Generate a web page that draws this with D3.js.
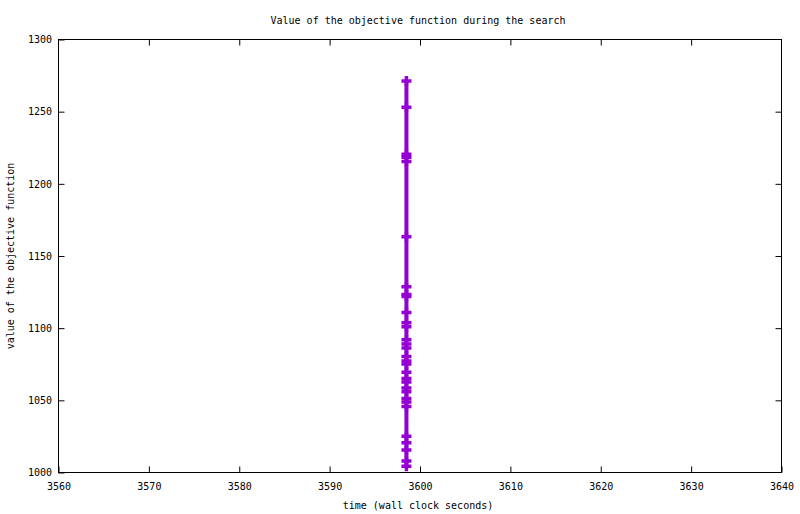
<!DOCTYPE html>
<html>
<head>
<meta charset="utf-8">
<script src="https://cdn.jsdelivr.net/npm/d3@7"></script>
<style>
  html, body { margin: 0; padding: 0; background: #fff; }
  svg text { font-family: "DejaVu Sans Mono", "Liberation Mono", monospace; font-size: 10px; fill: #000; }
</style>
</head>
<body>
<svg id="chart" width="800" height="514"></svg>
<script>
const titleText = "Value of the objective function during the search";
const xLabel = "time (wall clock seconds)";
const yLabel = "value of the objective function";

const xTicks = [3560, 3570, 3580, 3590, 3600, 3610, 3620, 3630, 3640];
const yTicks = [1000, 1050, 1100, 1150, 1200, 1250, 1300];

const times = [3598.5, 3598.5, 3598.5, 3598.5, 3598.5, 3598.5, 3598.5, 3598.5,
  3598.5, 3598.5, 3598.5, 3598.5, 3598.5, 3598.5, 3598.5, 3598.5, 3598.5, 3598.5,
  3598.5, 3598.5, 3598.5, 3598.5, 3598.5, 3598.5, 3598.5, 3598.5, 3598.5, 3598.5,
  3598.5, 3598.5, 3598.5];
const objective = [1271.3, 1253, 1220.5, 1218.5, 1215.5, 1163.4, 1128.7, 1123.3,
  1121.9, 1110.8, 1103.7, 1100.9, 1091.9, 1089.1, 1086.3, 1080.4, 1077.3, 1075.2,
  1069.4, 1065.1, 1062.7, 1058.5, 1056, 1051.3, 1048.8, 1045.7, 1025.2, 1020.6,
  1015.6, 1007.9, 1004.4];

const data = times.map((t, i) => ({ t: t, v: objective[i] }));

const svg = d3.select("#chart");
const L = 58.5, R = 781.5, T = 39.5, B = 472.5;
const x = d3.scaleLinear().domain([3560, 3640]).range([L, R]);
const y = d3.scaleLinear().domain([1000, 1300]).range([B, T]);
const color = "#9400d3";

function styleAxis(g) {
  g.select(".domain").remove();
  g.selectAll(".tick line").attr("stroke", "#000").attr("stroke-width", 1);
}

svg.append("g").attr("transform", `translate(0,${B})`)
  .call(d3.axisBottom(x).tickValues(xTicks).tickSize(-6).tickPadding(10.5).tickFormat(d3.format("d")))
  .call(styleAxis);
svg.append("g").attr("transform", `translate(0,${T})`)
  .call(d3.axisTop(x).tickValues(xTicks.slice(1, -1)).tickSize(-6).tickFormat(""))
  .call(styleAxis);
svg.append("g").attr("transform", `translate(${L},0)`)
  .call(d3.axisLeft(y).tickValues(yTicks).tickSize(-6).tickPadding(6.5).tickFormat(d3.format("d")))
  .call(styleAxis);
svg.append("g").attr("transform", `translate(${R},0)`)
  .call(d3.axisRight(y).tickValues(yTicks.slice(1, -1)).tickSize(-6).tickFormat(""))
  .call(styleAxis);

svg.selectAll("g text").attr("font-family", null).attr("font-size", null);

svg.append("rect")
  .attr("x", L).attr("y", T).attr("width", R - L).attr("height", B - T)
  .attr("fill", "none").attr("stroke", "#000").attr("stroke-width", 1);

// data line
svg.append("path")
  .datum(data)
  .attr("fill", "none")
  .attr("stroke", color)
  .attr("stroke-width", 4)
  .attr("d", d3.line().x(d => x(d.t)).y(d => y(d.v)));

// plus markers
const s = 5;
svg.append("g").selectAll("path")
  .data(data)
  .join("path")
  .attr("fill", "none")
  .attr("stroke", color)
  .attr("stroke-width", 3.5)
  .attr("d", d => {
    const cx = x(d.t), cy = y(d.v);
    return `M${cx - s},${cy}H${cx + s}M${cx},${cy - s}V${cy + s}`;
  });

svg.append("text").attr("x", 418).attr("y", 23.5).attr("text-anchor", "middle").text(titleText);
svg.append("text").attr("x", 418).attr("y", 508.5).attr("text-anchor", "middle").text(xLabel);
svg.append("text")
  .attr("transform", `translate(13.5,${(T + B) / 2}) rotate(-90)`)
  .attr("text-anchor", "middle").text(yLabel);
</script>
</body>
</html>
